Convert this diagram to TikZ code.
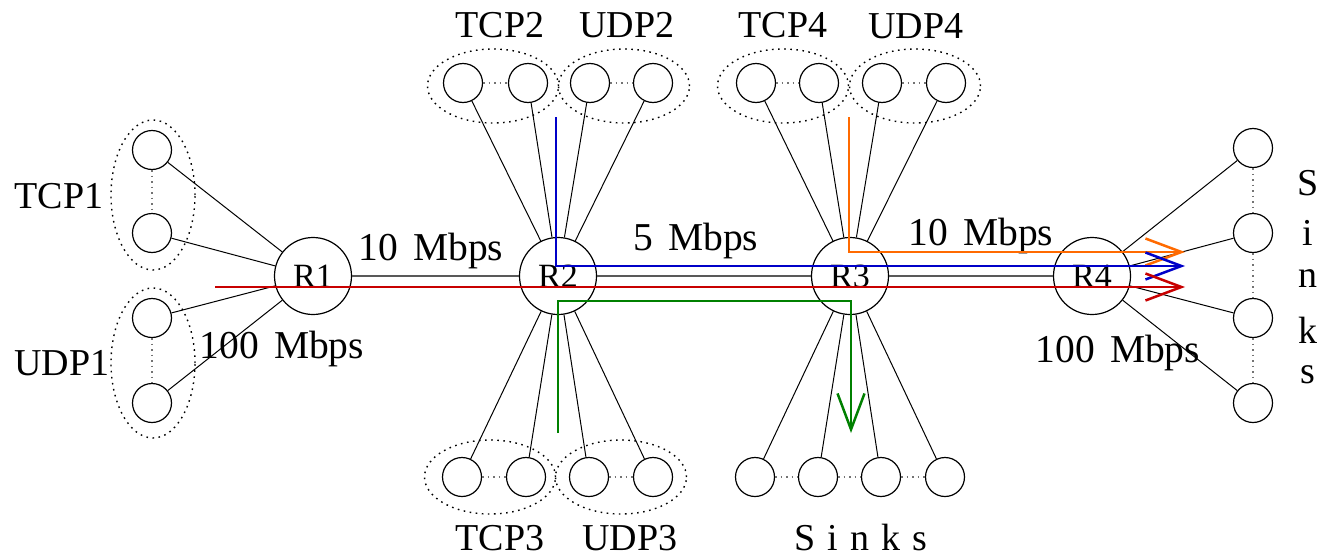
\documentclass[tikz,border=0pt]{standalone}
\usepackage{fontspec}
\setmainfont{Liberation Serif}
\usetikzlibrary{shapes.geometric,arrows.meta}
\definecolor{fred}{RGB}{200,0,0}
\definecolor{fblue}{RGB}{0,0,200}
\definecolor{forange}{RGB}{255,106,0}
\definecolor{fgreen}{RGB}{0,128,0}
\begin{document}
\begin{tikzpicture}[x=1pt,y=-1pt,
  host/.style={circle,draw,line width=1.2pt,minimum size=39pt,inner sep=0pt},
  router/.style={circle,draw,line width=1.2pt,minimum size=77pt,inner sep=0pt,font=\fontsize{34}{34}\selectfont},
  grp/.style={ellipse,draw,line width=1.4pt,dash pattern=on 1.6pt off 4.5pt,inner sep=0pt},
  hgrp/.style={grp,minimum width=131pt,minimum height=74pt},
  vgrp/.style={grp,minimum width=84pt,minimum height=150pt},
  lbl/.style={font=\fontsize{38}{40}\selectfont,inner sep=0pt,anchor=base},
  rate/.style={font=\fontsize{39.5}{40}\selectfont,inner sep=0pt,anchor=base},
  wire/.style={line width=1pt},
  link/.style={line width=2pt,draw=black!65},
  dots/.style={line width=1.4pt,draw=black!55,dash pattern=on 1.5pt off 4pt},
  flow/.style={line width=2.5pt,-{Straight Barb[length=36pt,width=27pt,line width=2.5pt]}},
  ]
\useasboundingbox (0,0) rectangle (1322,557);
% groups
\node[vgrp] (g1) at (153,195) {};
\node[vgrp] (g2) at (153,363) {};
\node[hgrp] (gt2) at (493,86) {};
\node[hgrp] (gu2) at (624,86) {};
\node[hgrp] (gt4) at (783,86) {};
\node[hgrp] (gu4) at (915,86) {};
\node[hgrp] (gt3) at (490,477) {};
\node[hgrp] (gu3) at (621,477) {};
% routers
\node[router] (R1) at (313,276) {R1};
\node[router] (R2) at (558,276) {R2};
\node[router] (R3) at (850,276) {R3};
\node[router] (R4) at (1092,276) {R4};
% hosts
\node[host] (t1a) at (152,150) {};
\node[host] (t1b) at (152,233) {};
\node[host] (u1a) at (152,318) {};
\node[host] (u1b) at (152,403) {};
\node[host] (t2a) at (463,83) {};
\node[host] (t2b) at (528,83) {};
\node[host] (u2a) at (590,83) {};
\node[host] (u2b) at (653,83) {};
\node[host] (t4a) at (756,83) {};
\node[host] (t4b) at (819,83) {};
\node[host] (u4a) at (882,83) {};
\node[host] (u4b) at (946,83) {};
\node[host] (t3a) at (462,477) {};
\node[host] (t3b) at (526,477) {};
\node[host] (u3a) at (589,477) {};
\node[host] (u3b) at (653,477) {};
\node[host] (s1) at (755,477) {};
\node[host] (s2) at (818,477) {};
\node[host] (s3) at (881,477) {};
\node[host] (s4) at (945,477) {};
\node[host] (r1) at (1253,148) {};
\node[host] (r2) at (1253,233) {};
\node[host] (r3) at (1253,318) {};
\node[host] (r4) at (1253,403) {};
% dotted links inside groups
\foreach \a/\b in {t1a/t1b,u1a/u1b,t2a/t2b,u2a/u2b,t4a/t4b,u4a/u4b,t3a/t3b,u3a/u3b,s1/s2,s2/s3,s3/s4,r1/r2,r2/r3,r3/r4}
  \draw[dots] (\a) -- (\b);
% access wires
\foreach \h in {t1a,t1b,u1a,u1b} \draw[wire] (\h) -- (R1);
\foreach \h in {t2a,t2b,u2a,u2b,t3a,t3b,u3a,u3b} \draw[wire] (\h) -- (R2);
\foreach \h in {t4a,t4b,u4a,u4b,s1,s2,s3,s4} \draw[wire] (\h) -- (R3);
\foreach \h in {r1,r2,r3,r4} \draw[wire] (\h) -- (R4);
% backbone links
\draw[link] (R1) -- (R2);
\draw[link] (R2) -- (R3);
\draw[link] (R3) -- (R4);
% labels
\node[lbl] (lt1) at (59,208) {TCP1};
\node[lbl] (lu1) at (62,375) {UDP1};
\node[lbl] (lt2) at (500,37) {TCP2};
\node[lbl] (lu2) at (627,37) {UDP2};
\node[lbl] (lt4) at (783,37) {TCP4};
\node[lbl] (lu4) at (916,38) {UDP4};
\node[lbl] (lt3) at (500,550) {TCP3};
\node[lbl] (lu3) at (630,550) {UDP3};
\node[lbl] (lsb) at (861,550) {S\hspace{12pt}i\hspace{12pt}n\hspace{12pt}k\hspace{12pt}s};
\node[rate] (b12) at (431,260) {10\hspace{15pt}Mbps};
\node[rate] (b23) at (696,250) {5\hspace{15pt}Mbps};
\node[rate] (b34) at (981,245) {10\hspace{15pt}Mbps};
\node[rate] (bl) at (282,358) {100\hspace{15pt}Mbps};
\node[rate] (br) at (1118,362) {100\hspace{15pt}Mbps};
\node[lbl] (v1) at (1308,195) {S};
\node[lbl] (v2) at (1308,245) {i};
\node[lbl] (v3) at (1308,287) {n};
\node[lbl] (v4) at (1308,343) {k};
\node[lbl] (v5) at (1308,383) {s};
% flows
\coordinate (redS) at (215,287);
\coordinate (redE) at (1185,287);
\coordinate (bluS) at (556,117);
\coordinate (bluE) at (1185,266);
\coordinate (oraS) at (849,117);
\coordinate (oraE) at (1185,252);
\coordinate (greS) at (558,433);
\coordinate (greC) at (558,301);
\coordinate (greE) at (851,433);
\draw[flow,draw=fgreen] (greS) -- (greC) -| (greE);
\draw[flow,draw=forange] (oraS) |- (oraE);
\draw[flow,draw=fblue] (bluS) |- (bluE);
\draw[flow,draw=fred] (redS) -- (redE);
\end{tikzpicture}
\end{document}
